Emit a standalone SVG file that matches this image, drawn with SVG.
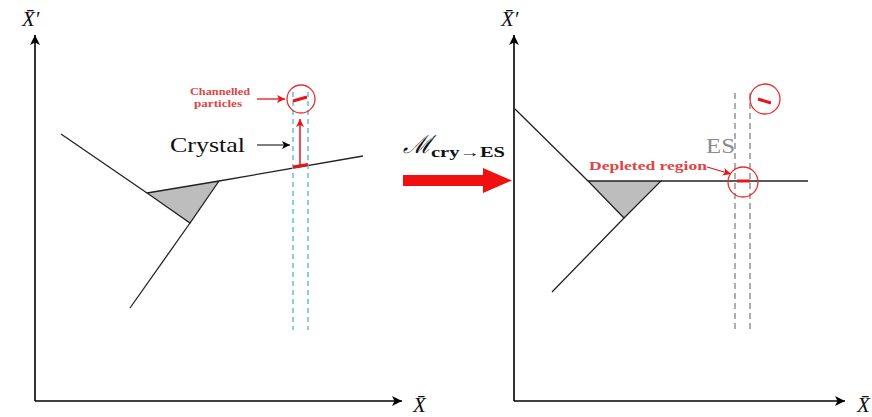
<svg xmlns="http://www.w3.org/2000/svg" width="872" height="417" viewBox="0 0 872 417">
<style>
.ax{stroke:#000;stroke-width:1.6;fill:none}
.ln{stroke:#222;stroke-width:1.3;fill:none}
.tri{fill:#bdbdbd;stroke:#222;stroke-width:1.3}
.rc{fill:none;stroke:#e53030;stroke-width:1.3}
.rseg{stroke:#e8141a;stroke-width:3;stroke-linecap:butt}
.bd{stroke:#6cc3dc;stroke-width:1.6;stroke-dasharray:5,4;fill:none}
.gd{stroke:#9a9a9a;stroke-width:1.6;stroke-dasharray:6,4;fill:none}
.lab{font-family:"Liberation Serif",serif;font-style:italic;font-size:21px;fill:#111}
.cm{font-family:"Liberation Serif",serif;font-size:21px;fill:#111}
.rt{font-family:"Liberation Serif",serif;font-weight:bold;font-size:10px;fill:#e04545}
.rt2{font-family:"Liberation Serif",serif;font-weight:bold;font-size:11.5px;fill:#e04545}
</style>
<defs>
<marker id="ah" markerWidth="12" markerHeight="10" refX="10" refY="5" orient="auto" markerUnits="userSpaceOnUse">
<path d="M0,0 L10,5 L0,10 L2.5,5 Z" fill="#000"/>
</marker>
<marker id="ahs" markerWidth="10" markerHeight="8" refX="8" refY="4" orient="auto" markerUnits="userSpaceOnUse">
<path d="M0,0 L8,4 L0,8 L2,4 Z" fill="#000"/>
</marker>
<marker id="ahr" markerWidth="10" markerHeight="8" refX="8" refY="4" orient="auto" markerUnits="userSpaceOnUse">
<path d="M0,0 L8,4 L0,8 L2,4 Z" fill="#e8141a"/>
</marker>
</defs>

<g id="left-panel">
<g id="left-axes">
<line class="ax" x1="35" y1="401" x2="35" y2="35" marker-end="url(#ah)"/>
<line class="ax" x1="35" y1="401" x2="402" y2="401" marker-end="url(#ah)"/>
<text class="lab" x="22" y="26">X̄′</text>
<text class="lab" x="413" y="412">X̄</text>
</g>
<g id="left-crystal">
<polygon class="tri" points="147,193 219,181 190,223"/>
<line class="ln" x1="61" y1="134" x2="147" y2="193"/>
<line class="ln" x1="219" y1="181" x2="363" y2="156"/>
<line class="ln" x1="190" y1="223" x2="130" y2="308"/>
</g>
<g id="left-channel">
<line class="bd" x1="293" y1="92" x2="293" y2="330"/>
<line class="bd" x1="308" y1="92" x2="308" y2="330"/>
<line class="rseg" x1="293" y1="167" x2="308" y2="164.5"/>
<line x1="300" y1="166" x2="300" y2="119" stroke="#e8141a" stroke-width="1.5" marker-end="url(#ahr)"/>
<circle class="rc" cx="301" cy="99" r="14"/>
<line class="rseg" x1="293" y1="101" x2="307" y2="97" stroke-width="2.5"/>
</g>
<g id="left-labels">
<text class="cm" x="170" y="152" textLength="75" lengthAdjust="spacingAndGlyphs">Crystal</text>
<line x1="257" y1="145" x2="290" y2="145" stroke="#000" stroke-width="1.2" marker-end="url(#ahs)"/>
<text class="rt" x="220" y="95" text-anchor="middle" textLength="60" lengthAdjust="spacingAndGlyphs">Channelled</text>
<text class="rt" x="218" y="107" text-anchor="middle" textLength="48" lengthAdjust="spacingAndGlyphs">particles</text>
<line x1="257" y1="99" x2="285" y2="99" stroke="#e8141a" stroke-width="1.3" marker-end="url(#ahr)"/>
</g>
</g>

<g id="mapping">
<text x="403" y="153" font-family="Liberation Serif,serif" font-style="italic" font-size="25" fill="#111">ℳ</text>
<text x="431" y="157" font-family="Liberation Serif,serif" font-weight="bold" font-size="14" fill="#111" textLength="74" lengthAdjust="spacingAndGlyphs">cry→ES</text>
<polygon points="403,175 483,175 483,168 512,180.5 483,193 483,186 403,186" fill="#f01010"/>
</g>

<g id="right-panel">
<g id="right-axes">
<line class="ax" x1="514" y1="401" x2="514" y2="35" marker-end="url(#ah)"/>
<line class="ax" x1="514" y1="401" x2="845" y2="401" marker-end="url(#ah)"/>
<text class="lab" x="501" y="26">X̄′</text>
<text class="lab" x="857" y="412">X̄</text>
</g>
<g id="right-crystal">
<polygon class="tri" points="588,181 661,181 624,218"/>
<line class="ln" x1="515" y1="109" x2="588" y2="181"/>
<line class="ln" x1="661" y1="181" x2="808" y2="181"/>
<line class="ln" x1="624" y1="218" x2="552" y2="292"/>
</g>
<g id="right-es">
<line class="gd" x1="735" y1="93" x2="735" y2="330"/>
<line class="gd" x1="750" y1="93" x2="750" y2="330"/>
<text x="706" y="153" font-family="Liberation Serif,serif" font-size="22" fill="#8c8c8c" textLength="29" lengthAdjust="spacingAndGlyphs">ES</text>
<line class="rseg" x1="737" y1="181" x2="750" y2="181" stroke-width="3.5"/>
<circle class="rc" cx="743" cy="182" r="15"/>
<circle class="rc" cx="765" cy="99" r="15"/>
<line class="rseg" x1="758" y1="99" x2="771" y2="103" stroke-width="2.5"/>
<text class="rt2" x="589" y="170" textLength="118" lengthAdjust="spacingAndGlyphs">Depleted region</text>
<line x1="707" y1="167" x2="731" y2="174" stroke="#e8141a" stroke-width="1.2" marker-end="url(#ahr)"/>
</g>
</g>
</svg>
